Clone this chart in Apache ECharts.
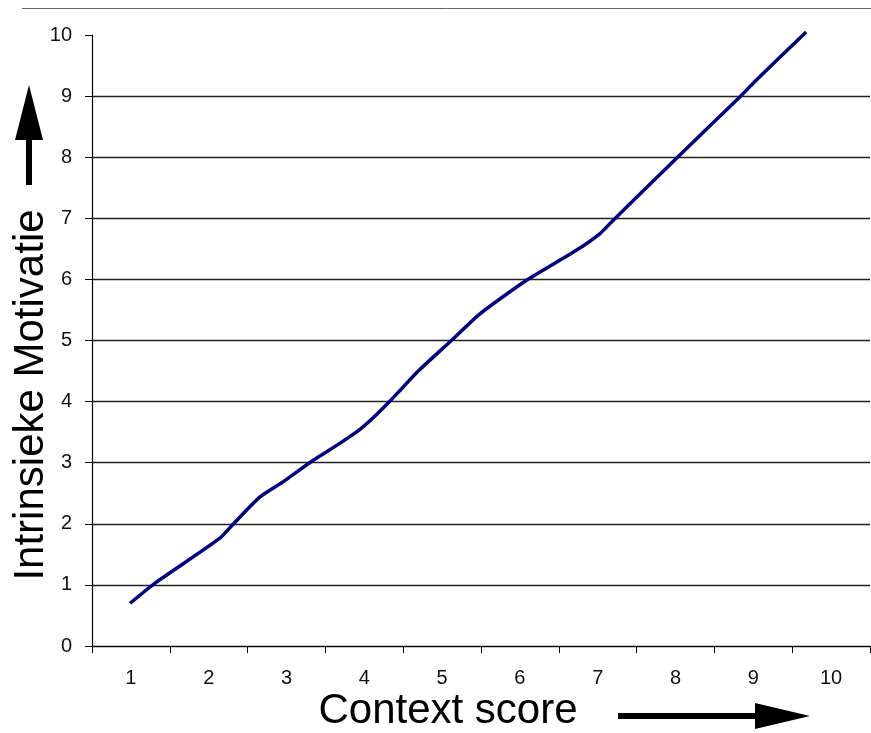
<!DOCTYPE html>
<html>
<head>
<meta charset="utf-8">
<script src="https://cdn.jsdelivr.net/npm/echarts@6/dist/echarts.min.js"></script>
<style>
html,body{margin:0;padding:0;background:#fff;}
#chart{width:871px;height:733px;}
</style>
</head>
<body>
<div id="chart"></div>
<script>
// Category tick labels on the x axis
const categories = ['1','2','3','4','5','6','7','8','9','10'];
// Line: x positions (in category units) and y values
const lineX = [0.99, 1.31, 2.14, 2.34, 2.66, 2.96, 3.32, 3.69, 3.94, 4.11, 4.33, 4.50, 4.71, 5.12, 5.49, 6.09, 6.73, 7.03, 7.20, 8.01, 8.83, 9.02, 9.68];
const lineY = [0.70, 1.03, 1.76, 2.03, 2.44, 2.69, 3.02, 3.32, 3.54, 3.73, 4.01, 4.24, 4.52, 5.00, 5.44, 5.99, 6.48, 6.75, 6.97, 7.98, 8.99, 9.24, 10.05];
const xTitle = 'Context score';
const yTitle = 'Intrinsieke Motivatie';

const chart = echarts.init(document.getElementById('chart'), null, {renderer: 'canvas'});
const font = 'Liberation Sans, Arial, sans-serif';

chart.setOption({
  animation: false,
  backgroundColor: '#fff',
  grid: {left: 92, right: 1, top: 35, bottom: 87, containLabel: false},
  xAxis: [
    {
      type: 'category',
      data: categories,
      boundaryGap: true,
      axisLine: {show: true, lineStyle: {color: '#000', width: 1.2}},
      axisTick: {show: true, length: 7, interval: 0, lineStyle: {color: '#000'}},
      axisLabel: {color: '#111', fontSize: 20, fontFamily: font, margin: 22},
      splitLine: {show: false}
    },
    {
      type: 'value',
      min: 0.5, max: 10.5,
      show: false
    }
  ],
  yAxis: {
    type: 'value',
    min: 0, max: 10, interval: 1,
    axisLine: {show: true, lineStyle: {color: '#000', width: 1.2}},
    axisTick: {show: true, length: 7, lineStyle: {color: '#000'}},
    axisLabel: {color: '#111', fontSize: 20, fontFamily: font, margin: 20},
    splitLine: {show: true, showMaxLine: false, lineStyle: {color: '#222', width: 1.3}}
  },
  series: [{
    type: 'line',
    xAxisIndex: 1,
    data: lineX.map((x, i) => [x, lineY[i]]),
    showSymbol: false,
    smooth: 0.2,
    clip: false,
    lineStyle: {color: '#000080', width: 3.5}
  }],
  graphic: [
    {type: 'line', shape: {x1: 22, y1: 8.5, x2: 871, y2: 8.5}, style: {stroke: '#666', lineWidth: 1}},
    {type: 'text', x: 31, y: 395, rotation: Math.PI / 2,
     style: {text: yTitle, font: '42px ' + font, fill: '#000', align: 'center', verticalAlign: 'middle'}},
    {type: 'text', x: 448, y: 711,
     style: {text: xTitle, font: '42px ' + font, fill: '#000', align: 'center', verticalAlign: 'middle'}},
    {type: 'polygon', shape: {points: [[26,185],[26,140],[15,140],[29,85],[43,140],[32,140],[32,185]]}, style: {fill: '#000'}},
    {type: 'polygon', shape: {points: [[618,713],[755,713],[755,703],[810,716],[755,729],[755,719],[618,719]]}, style: {fill: '#000'}}
  ]
});
</script>
</body>
</html>
